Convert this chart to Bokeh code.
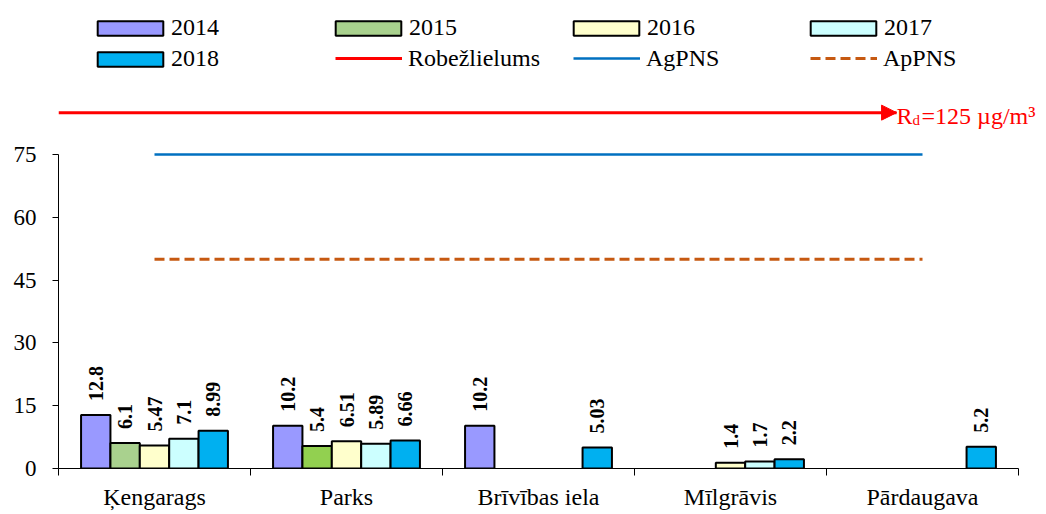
import math
from bokeh.plotting import figure
from bokeh.models import (Range1d, FixedTicker, ColumnDataSource, Legend,
                          LegendItem, Arrow, NormalHead, Label)
from bokeh.core.properties import value
from bokeh.embed import file_html
from bokeh.resources import INLINE

# ---------------- data ----------------
stations = ["Ķengarags", "Parks", "Brīvības iela", "Mīlgrāvis", "Pārdaugava"]
years = ["2014", "2015", "2016", "2017", "2018"]
v2014 = [12.8, 10.2, 10.2, None, None]
v2015 = [6.1, 5.4, None, None, None]
v2016 = [5.47, 6.51, None, 1.4, None]
v2017 = [7.1, 5.89, None, 1.7, None]
v2018 = [8.99, 6.66, 5.03, 2.2, 5.2]
series = [v2014, v2015, v2016, v2017, v2018]

year_colors = ["#9999FF", "#92D050", "#FFFFCC", "#CCFFFF", "#00B0F0"]
# first station's 2015 bar is drawn in a lighter green in the original
special_colors = {(1, 0): "#A9D18E"}

limit_label = "Robežlielums"
limit_value = 125          # off-scale, shown as an arrow
limit_arrow_y = 85         # display position of the off-scale arrow
agpns_label, agpns = "AgPNS", 75
appns_label, appns = "ApPNS", 50
y_ticks = [0, 15, 30, 45, 60, 75]

FONT = "Liberation Serif"

# ---------------- figure ----------------
frame_h = 468
px_per_unit = (frame_h - 154) / 75.0
cat_px = 192.0
frame_w = 988
p = figure(frame_width=frame_w, frame_height=frame_h,
           x_range=Range1d(0, frame_w / cat_px),
           y_range=Range1d(0, frame_h / px_per_unit),
           output_backend="svg", toolbar_location=None,
           min_border_left=58, min_border_right=0,
           min_border_top=0, min_border_bottom=514 - frame_h)
p.outline_line_color = None
p.grid.visible = False
p.background_fill_color = "white"

centers = [i + 0.5 for i in range(len(stations))]
bar_w = 0.153

bar_renderers = []
for j, (yr, vals) in enumerate(zip(years, series)):
    xs, ys, cols, labs = [], [], [], []
    for i, v in enumerate(vals):
        if v is None:
            continue
        xs.append(centers[i] + (j - 2) * bar_w)
        ys.append(v)
        cols.append(special_colors.get((j, i), year_colors[j]))
        labs.append(str(v))
    src = ColumnDataSource(dict(x=xs, top=ys, color=cols, label=labs))
    r = p.vbar(x="x", top="top", width=bar_w, bottom=0, source=src,
               fill_color="color", line_color="black", line_width=2)
    p.text(x="x", y="top", text="label", source=src, angle=math.pi / 2,
           text_align="left", text_baseline="middle", y_offset=-14,
           text_font=value(FONT), text_font_style="bold",
           text_font_size="20px", text_color="black")
    bar_renderers.append(r)

# threshold lines across the category centres
r_ag = p.line(x=[centers[0], centers[-1]], y=[agpns, agpns],
              line_color="#0070C0", line_width=2.5)
r_ap = p.line(x=[centers[0], centers[-1]], y=[appns, appns],
              line_color="#C65911", line_width=3, line_dash="10 5")

# off-scale limit value arrow
arrow_end = 4.365
r_lim = p.line(x=[0, arrow_end], y=[limit_arrow_y, limit_arrow_y],
               line_color="#FF0000", line_width=3)
p.add_layout(Arrow(end=NormalHead(size=15, fill_color="#FF0000",
                                  line_color="#FF0000"),
                   x_start=0, y_start=limit_arrow_y,
                   x_end=arrow_end, y_end=limit_arrow_y,
                   line_alpha=0))
p.add_layout(Label(x=arrow_end, y=limit_arrow_y, text="R", y_offset=-3,
                   text_font=FONT, text_font_size="24px", text_color="#FF0000",
                   text_baseline="alphabetic"))
p.add_layout(Label(x=arrow_end, y=limit_arrow_y, text="d", x_offset=16, y_offset=-7,
                   text_font=FONT, text_font_size="15px", text_color="#FF0000",
                   text_baseline="alphabetic"))
p.add_layout(Label(x=arrow_end, y=limit_arrow_y, text="=%d µg/m³" % limit_value,
                   x_offset=25, y_offset=-3,
                   text_font=FONT, text_font_size="24px", text_color="#FF0000",
                   text_baseline="alphabetic"))

# ---------------- axes ----------------
ya = p.yaxis[0]
ya.ticker = FixedTicker(ticks=y_ticks)
ya.bounds = (0, 75)
ya.major_tick_out = 6
ya.major_tick_in = 0
ya.minor_tick_out = 0
ya.minor_tick_in = 0
ya.major_label_standoff = 16
ya.major_label_text_font = FONT
ya.major_label_text_font_size = "23px"
ya.major_label_text_color = "black"
ya.axis_line_color = "black"
ya.major_tick_line_color = "black"

xa = p.xaxis[0]
xa.ticker = FixedTicker(ticks=centers, minor_ticks=list(range(len(stations) + 1)))
xa.bounds = (0, len(stations))
xa.major_label_overrides = {c: s for c, s in zip(centers, stations)}
xa.major_tick_out = 0
xa.major_tick_in = 0
xa.minor_tick_out = 7
xa.minor_tick_in = 0
xa.minor_tick_line_color = "black"
xa.axis_line_color = "black"
xa.major_label_standoff = 8
xa.major_label_text_font = FONT
xa.major_label_text_font_size = "24px"
xa.major_label_text_color = "black"

# ---------------- legend (one block per entry) ----------------
ITEM_H = 28
def add_legend(label, renderers, gw, gh, page_x, page_yc, standoff):
    leg = Legend(items=[LegendItem(label=label, renderers=renderers)],
                 location=(page_x - 58, frame_h - page_yc - ITEM_H / 2),
                 glyph_width=gw, glyph_height=gh, label_standoff=standoff,
                 padding=0, margin=0, spacing=0,
                 border_line_alpha=0, background_fill_alpha=0,
                 label_text_font=FONT, label_text_font_size="24px",
                 label_text_color="black")
    p.add_layout(leg, "center")

col_x = [97, 335, 573, 810]
row_y = [27, 58]
# bar swatches: area legend glyphs are inset by 10% on every side
for j in range(4):
    add_legend(years[j], [bar_renderers[j]], 82, 18, col_x[j] - 8, row_y[0], 0)
add_legend(years[4], [bar_renderers[4]], 82, 18, col_x[0] - 8, row_y[1], 0)
add_legend(limit_label, [r_lim], 67, ITEM_H, col_x[1], row_y[1], 6)
add_legend(agpns_label, [r_ag], 67, ITEM_H, col_x[2], row_y[1], 6)
add_legend(appns_label, [r_ap], 67, ITEM_H, col_x[3], row_y[1], 6)

open("out.html", "w").write(file_html(p, INLINE))
